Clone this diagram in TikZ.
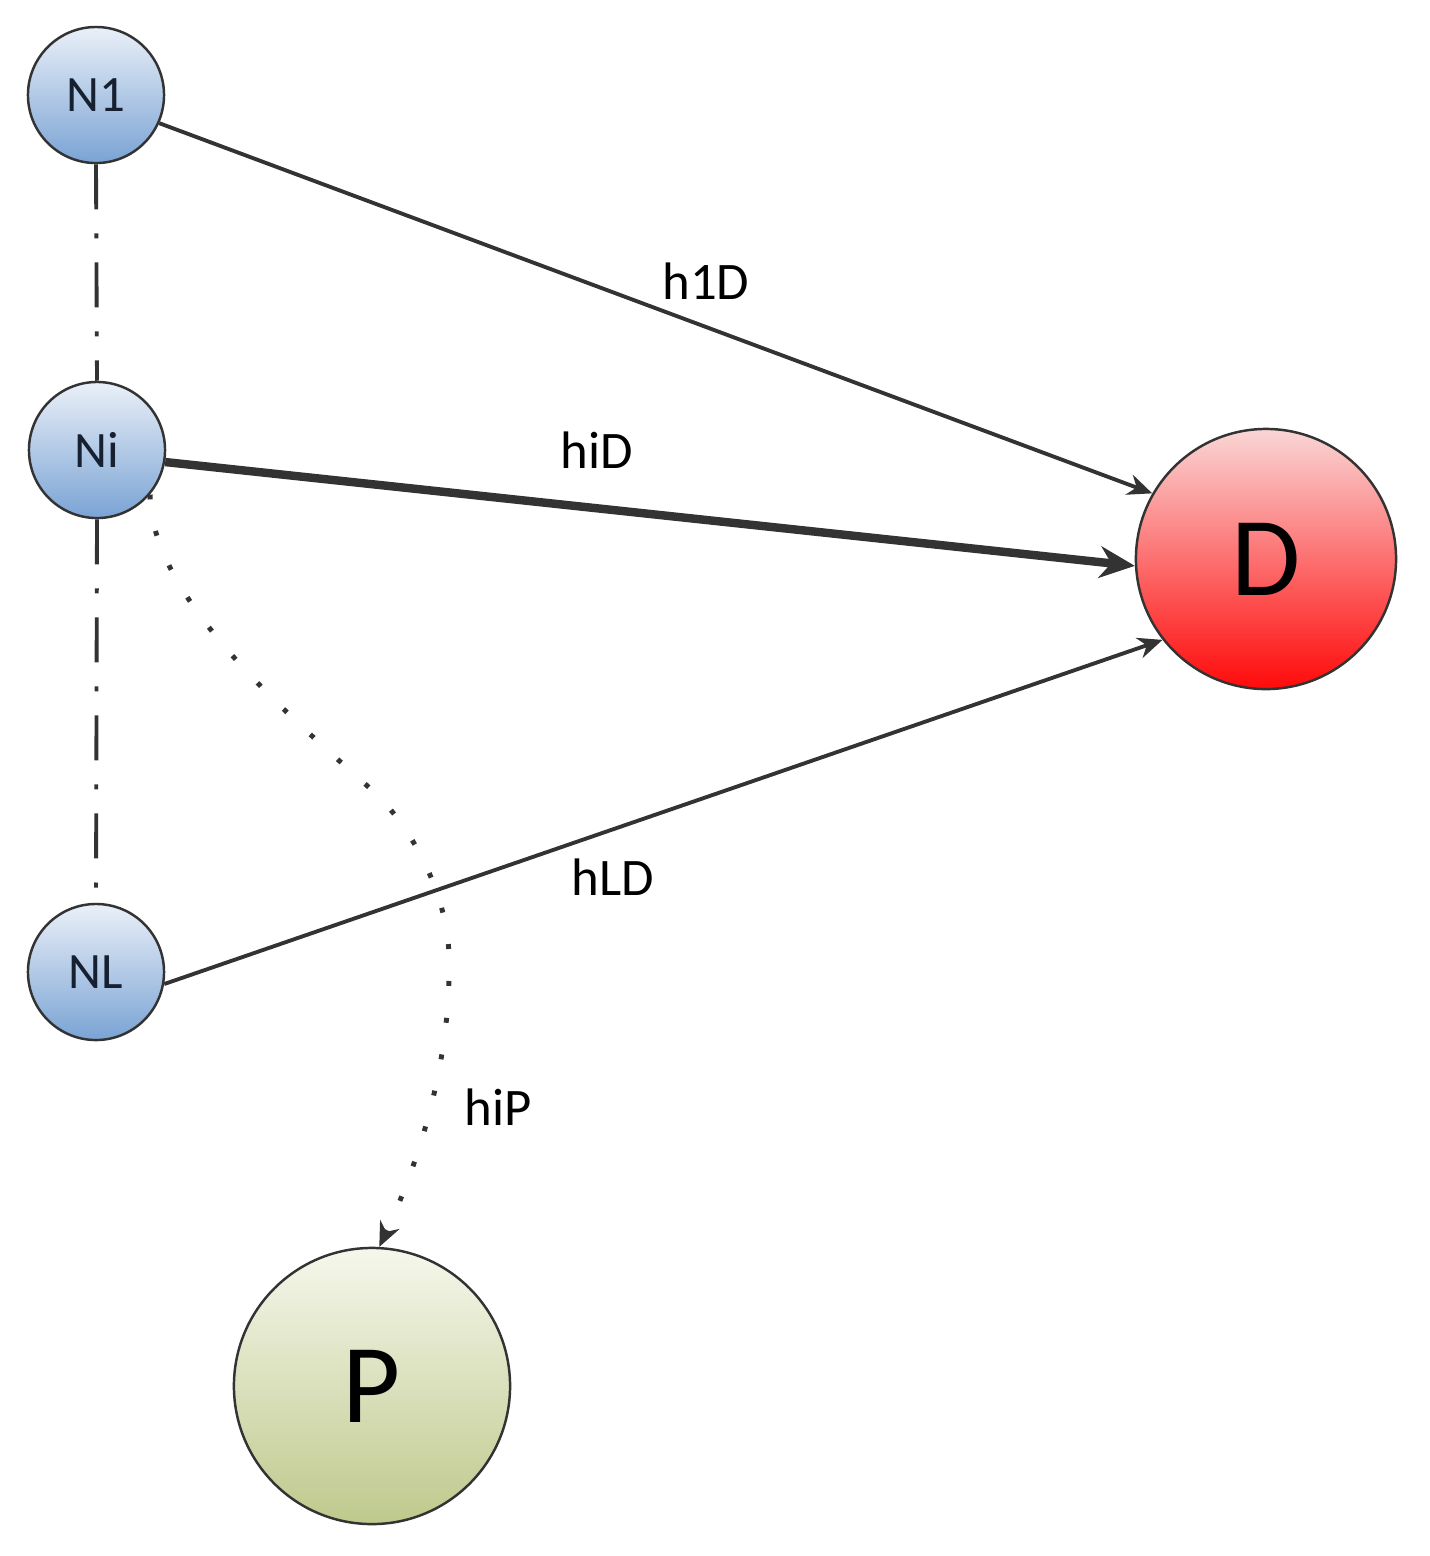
\documentclass[tikz,border=0pt]{standalone}
\usepackage{fontspec}
\setmainfont{Carlito}
\usetikzlibrary{arrows.meta}

\definecolor{relaytop}{RGB}{234,240,248}
\definecolor{relaybot}{RGB}{122,163,212}
\definecolor{desttop}{RGB}{250,214,214}
\definecolor{destbot}{RGB}{255,10,10}
\definecolor{eavetop}{RGB}{246,247,236}
\definecolor{eavebot}{RGB}{190,201,140}
\definecolor{edgegray}{RGB}{51,51,51}
\definecolor{relaytext}{RGB}{22,32,48}

\begin{document}
\begin{tikzpicture}[x=0.01cm, y=-0.01cm,
  relay/.style={circle, draw=edgegray, line width=0.7pt, minimum size=1.36cm, inner sep=0pt,
    top color=relaytop, bottom color=relaybot, text=relaytext, font=\fontsize{14.5}{17}\selectfont},
  bignode/.style={circle, draw=edgegray, line width=0.7pt, minimum size=2.6cm, inner sep=0pt,
    font=\fontsize{32}{36}\selectfont},
  chanlabel/.style={inner sep=1pt, font=\fontsize{15}{18}\selectfont},
  link/.style={draw=edgegray, line width=1.1pt, -{Stealth[length=7pt, width=6pt]}},
  relaychain/.style={draw=edgegray, line width=1.1pt, dash pattern=on 0.45cm off 0.24cm on 0.05cm off 0.24cm},
  leak/.style={draw=edgegray, line width=1.4pt, dash pattern=on 1.4pt off 9.1pt, -{Stealth[length=7pt, width=6pt]}}]

  % Fix the page to the size of the reference
  \useasboundingbox (0,0) rectangle (1430,1556);

  % The relays on the left
  \node[relay] (N1) at (96,95) {N1};
  \node[relay] (Ni) at (97,450) {Ni};
  \node[relay] (NL) at (96,972) {NL};

  % Destination and eavesdropper
  \node[bignode, top color=desttop, bottom color=destbot] (D) at (1266,559) {D};
  \node[bignode, minimum size=2.76cm, top color=eavetop, bottom color=eavebot] (P) at (372,1386) {P};

  % Dash-dot chain between the relays
  \draw[relaychain] (N1.south) -- (Ni.north);
  \draw[relaychain] (Ni.south) -- (NL.north);

  % Channels to the destination
  \draw[link] (N1.-24) -- (D.150);
  \draw[link, line width=2.4pt, -{Stealth[length=10pt, width=9pt]}] (Ni.-10) -- (D.183);
  \draw[link] (NL.-10) -- (D.218);

  % Dotted channel from Ni to the eavesdropper
  \draw[leak] (Ni.-40) .. controls (150,600) and (300,725) .. (373,791)
    .. controls (415,830) and (449,900) .. (449,959)
    .. controls (451,1060) and (420,1160) .. (P.87);

  % Channel labels
  \node[chanlabel] (h1D) at (706,281) {h1D};
  \node[chanlabel] (hiD) at (597,450) {hiD};
  \node[chanlabel] (hLD) at (613,877) {hLD};
  \node[chanlabel] (hiP) at (498,1107) {hiP};

\end{tikzpicture}
\end{document}
